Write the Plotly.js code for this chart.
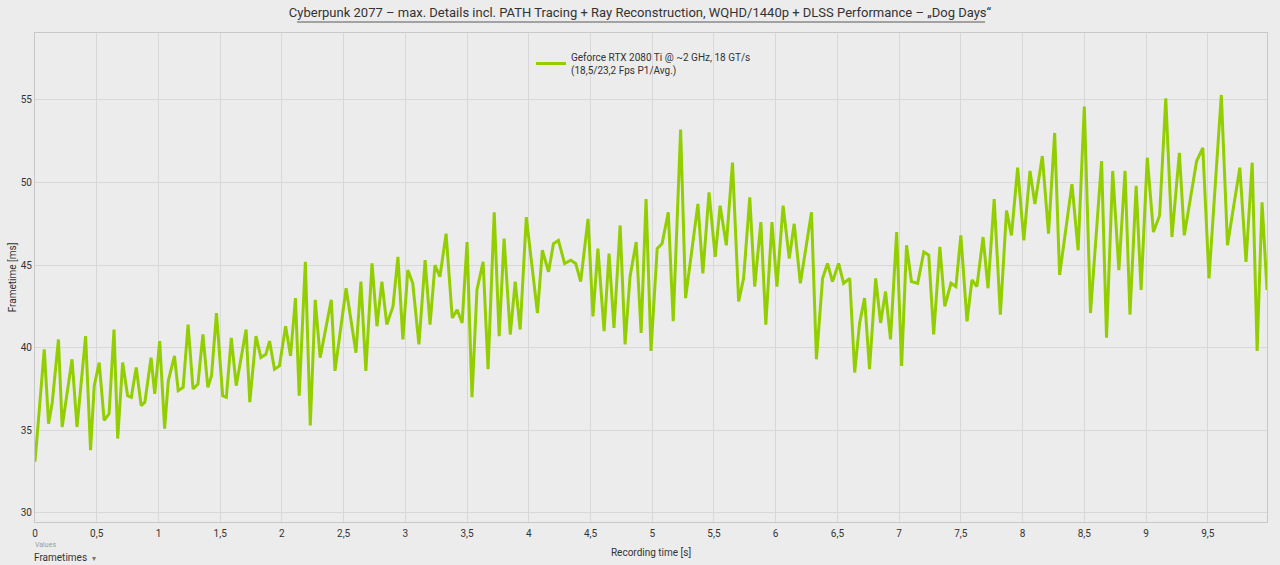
<!DOCTYPE html>
<html>
<head>
<meta charset="utf-8">
<script src="https://cdn.plot.ly/plotly-3.0.1.min.js"></script>
<style>
  html, body { margin: 0; padding: 0; background: #ececec; }
  #chart { width: 1280px; height: 565px; }
</style>
</head>
<body>
<div id="chart"></div>
<script>
// Recording time [s]
const recordingTime = [
  0, 0.075, 0.11, 0.14, 0.19, 0.22, 0.30, 0.34, 0.41, 0.45,
  0.48, 0.52, 0.56, 0.60, 0.64, 0.67, 0.71, 0.75, 0.78, 0.82,
  0.86, 0.89, 0.94, 0.97, 1.01, 1.05, 1.08, 1.13, 1.16, 1.20,
  1.24, 1.28, 1.32, 1.36, 1.40, 1.43, 1.47, 1.52, 1.55, 1.59,
  1.63, 1.71, 1.74, 1.79, 1.83, 1.87, 1.90, 1.94, 1.98, 2.03,
  2.07, 2.11, 2.14, 2.19, 2.23, 2.27, 2.31, 2.40, 2.43, 2.52,
  2.60, 2.64, 2.68, 2.73, 2.77, 2.81, 2.85, 2.90, 2.94, 2.98,
  3.02, 3.06, 3.11, 3.16, 3.20, 3.24, 3.28, 3.33, 3.38, 3.42,
  3.46, 3.50, 3.54, 3.58, 3.63, 3.67, 3.72, 3.76, 3.80, 3.85,
  3.89, 3.93, 3.98, 4.07, 4.11, 4.16, 4.20, 4.24, 4.29, 4.34,
  4.38, 4.42, 4.48, 4.52, 4.56, 4.61, 4.65, 4.69, 4.74, 4.78,
  4.82, 4.87, 4.91, 4.95, 4.99, 5.04, 5.08, 5.13, 5.17, 5.23,
  5.27, 5.37, 5.41, 5.46, 5.51, 5.55, 5.60, 5.65, 5.70, 5.74,
  5.79, 5.83, 5.88, 5.92, 5.97, 6.01, 6.06, 6.11, 6.15, 6.20,
  6.29, 6.33, 6.38, 6.42, 6.46, 6.51, 6.55, 6.60, 6.64, 6.68,
  6.72, 6.76, 6.81, 6.85, 6.89, 6.93, 6.98, 7.02, 7.06, 7.10,
  7.15, 7.20, 7.24, 7.28, 7.33, 7.37, 7.42, 7.46, 7.50, 7.55,
  7.59, 7.63, 7.68, 7.72, 7.77, 7.82, 7.87, 7.91, 7.96, 8.01,
  8.06, 8.10, 8.16, 8.21, 8.26, 8.30, 8.40, 8.45, 8.50, 8.55,
  8.64, 8.68, 8.73, 8.78, 8.83, 8.87, 8.92, 8.96, 9.01, 9.06,
  9.11, 9.16, 9.21, 9.27, 9.31, 9.41, 9.46, 9.51, 9.61, 9.66,
  9.70, 9.76, 9.81, 9.86, 9.90, 9.94, 9.98
];

// Frametime [ms]
const frametimes = [
  33.1, 39.9, 35.4, 36.7, 40.5, 35.2, 39.3, 35.2, 40.7, 33.8,
  37.7, 39.1, 35.6, 36.0, 41.1, 34.5, 39.1, 37.1, 37.0, 38.8,
  36.5, 36.7, 39.4, 37.2, 40.4, 35.1, 38.0, 39.5, 37.4, 37.6,
  41.4, 37.5, 37.8, 40.8, 37.6, 38.3, 42.1, 37.1, 37.0, 40.6,
  37.7, 41.1, 36.7, 40.7, 39.4, 39.6, 40.4, 38.7, 38.9, 41.3,
  39.5, 43.0, 37.1, 45.2, 35.3, 42.9, 39.4, 42.9, 38.6, 43.6,
  39.7, 44.0, 38.6, 45.1, 41.3, 44.0, 41.4, 42.5, 45.5, 40.5,
  44.7, 43.9, 40.2, 45.3, 41.4, 45.0, 44.3, 46.9, 41.8, 42.3,
  41.5, 46.4, 37.0, 43.5, 45.2, 38.7, 48.2, 40.7, 46.6, 40.8,
  44.0, 41.1, 47.9, 42.1, 45.9, 44.6, 46.3, 46.5, 45.1, 45.3,
  45.1, 44.0, 47.8, 41.9, 46.0, 41.0, 45.7, 41.2, 47.4, 40.2,
  44.3, 46.4, 40.9, 49.0, 39.8, 46.0, 46.3, 48.2, 41.6, 53.2,
  43.0, 48.7, 44.5, 49.4, 45.5, 48.6, 46.2, 51.2, 42.8, 44.2,
  49.1, 43.7, 47.6, 41.4, 47.6, 43.7, 48.6, 45.4, 47.5, 43.9,
  48.2, 39.3, 44.2, 45.1, 44.0, 45.1, 43.9, 44.2, 38.5, 41.5,
  43.0, 38.7, 44.2, 41.5, 43.4, 40.5, 47.0, 38.9, 46.2, 44.0,
  43.9, 45.8, 45.6, 40.8, 46.1, 42.5, 43.9, 43.7, 46.8, 41.6,
  44.1, 43.7, 46.7, 43.6, 49.0, 42.0, 48.3, 46.8, 50.9, 46.5,
  50.7, 48.7, 51.6, 46.9, 53.0, 44.4, 49.9, 45.9, 54.6, 42.1,
  51.3, 40.6, 50.7, 44.7, 50.7, 42.0, 49.8, 43.5, 51.5, 47.0,
  48.0, 55.1, 46.7, 51.8, 46.8, 51.3, 52.1, 44.2, 55.3, 46.2,
  48.1, 50.9, 45.2, 51.2, 39.8, 48.8, 43.5
];

const seriesName = "Geforce RTX 2080 Ti @ ~2 GHz, 18 GT/s<br>(18,5/23,2 Fps P1/Avg.)";
const chartTitle = "Cyberpunk 2077 – max. Details incl. PATH Tracing + Ray Reconstruction, WQHD/1440p + DLSS Performance – „Dog Days“";
const xTitle = "Recording time [s]";
const yTitle = "Frametime [ms]";
const xTicks = [0, 0.5, 1, 1.5, 2, 2.5, 3, 3.5, 4, 4.5, 5, 5.5, 6, 6.5, 7, 7.5, 8, 8.5, 9, 9.5];
const yTicks = [30, 35, 40, 45, 50, 55];

const FONT = "Roboto, 'Noto Sans', sans-serif";
const TXT = "#333333";

const trace = {
  type: "scatter",
  mode: "lines",
  x: recordingTime,
  y: frametimes,
  name: seriesName,
  line: { color: "#93cf00", width: 3 },
  hoverinfo: "x+y"
};

const layout = {
  width: 1280,
  height: 565,
  paper_bgcolor: "#ececec",
  plot_bgcolor: "#ececec",
  separators: ",.",
  font: { family: FONT, size: 10, color: TXT },
  margin: { l: 35, r: 13, t: 33, b: 43, pad: 0 },
  title: {
    text: chartTitle,
    font: { family: FONT, size: 13, color: TXT },
    x: 0.5, xref: "container", xanchor: "center",
    y: 1 - 12 / 565, yref: "container", yanchor: "middle"
  },
  xaxis: {
    range: [0, 9.98],
    tickvals: xTicks,
    showgrid: true, gridcolor: "#d8d8d8", gridwidth: 1,
    zeroline: false,
    showline: true, linecolor: "#c8c8c8", linewidth: 1, mirror: true,
    ticks: "outside", ticklen: 2, tickcolor: "rgba(0,0,0,0)",
    tickfont: { family: FONT, size: 10, color: TXT },
    title: { text: xTitle, font: { family: FONT, size: 10, color: TXT }, standoff: 10 }
  },
  yaxis: {
    range: [29.45, 59.05],
    tickvals: yTicks,
    showgrid: true, gridcolor: "#d8d8d8", gridwidth: 1,
    zeroline: false,
    showline: true, linecolor: "#c8c8c8", linewidth: 1, mirror: true,
    ticks: "", ticklen: 0,
    tickfont: { family: FONT, size: 10, color: TXT },
    title: { text: yTitle, font: { family: FONT, size: 10, color: TXT }, standoff: 2 }
  },
  showlegend: true,
  legend: {
    x: (531 - 35) / 1232, xanchor: "left",
    y: (522 - 44) / 489, yanchor: "top",
    bgcolor: "rgba(0,0,0,0)",
    font: { family: FONT, size: 10, color: TXT },
    itemwidth: 30
  },
  shapes: [
    {
      type: "line", xref: "paper", yref: "paper",
      x0: (297 - 35) / 1232, x1: (985 - 35) / 1232,
      y0: (522 - 22) / 489, y1: (522 - 22) / 489,
      line: { color: "#8a8a8a", width: 1.5 }
    }
  ],
  annotations: [
    {
      text: "Values", xref: "paper", yref: "paper",
      x: (33 - 35) / 1232, y: (522 - 545) / 489,
      xanchor: "left", yanchor: "middle", showarrow: false,
      font: { family: FONT, size: 7, color: "#9a9a9a" }
    },
    {
      text: "Frametimes  <span style='color:#777;font-size:8px'>▾</span>", xref: "paper", yref: "paper",
      x: (32 - 35) / 1232, y: (522 - 557) / 489,
      xanchor: "left", yanchor: "middle", showarrow: false,
      font: { family: FONT, size: 10, color: TXT }
    }
  ]
};

Plotly.newPlot("chart", [trace], layout, { displayModeBar: false, staticPlot: true });
</script>
</body>
</html>
